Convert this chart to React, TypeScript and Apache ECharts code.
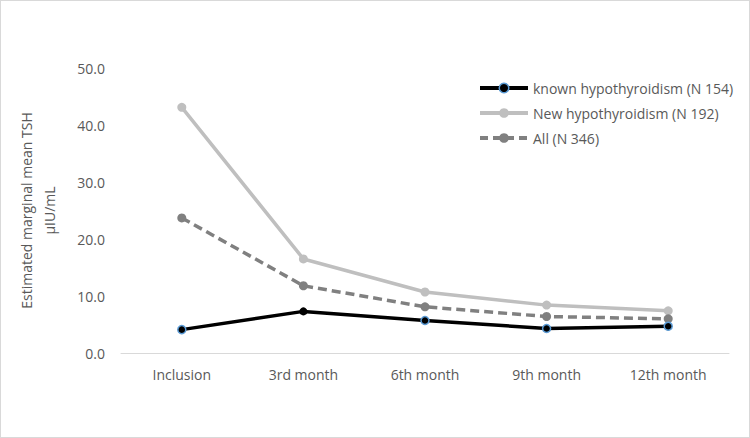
import React, { useEffect, useRef } from "react";
import * as echarts from "echarts";

const categories = ["Inclusion", "3rd month", "6th month", "9th month", "12th month"];
const knownValues = [4.1, 7.3, 5.7, 4.3, 4.7];
const newValues = [43.1, 16.5, 10.7, 8.4, 7.4];
const allValues = [23.7, 11.8, 8.1, 6.4, 6.0];
const seriesNames = ["known hypothyroidism (N 154)", "New hypothyroidism (N 192)", "All (N 346)"];
const yAxisTitle = "Estimated marginal mean TSH\nµIU/mL";

const FONT = "'Open Sans', sans-serif";
const TEXT = "#595959";

export default function App() {
  const ref = useRef<HTMLDivElement>(null);
  useEffect(() => {
    if (!ref.current) return;
    const chart = echarts.init(ref.current, undefined, { renderer: "svg" });
    const knownData = knownValues.map((v, i) => ({
      value: v,
      itemStyle: i === 1 ? { color: "#000", borderColor: "#000", borderWidth: 0 } : { color: "#000", borderColor: "#5b9bd5", borderWidth: 1.5 },
    }));
    chart.setOption({
      animation: false,
      backgroundColor: "#fff",
      textStyle: { fontFamily: FONT },
      grid: { left: 120, right: 20, top: 67, bottom: 84 },
      legend: {
        orient: "vertical",
        left: 472,
        top: 75,
        itemWidth: 48,
        itemHeight: 12,
        itemGap: 11,
        textStyle: { fontFamily: FONT, fontSize: 14, color: TEXT },
        data: [
          { name: seriesNames[0], itemStyle: { color: "#000", borderColor: "#5b9bd5", borderWidth: 1.5 }, lineStyle: { width: 4, color: "#000" } },
          { name: seriesNames[1], lineStyle: { width: 4, color: "#bfbfbf" } },
          { name: seriesNames[2], lineStyle: { width: 4, color: "#808080", type: [8, 5] } },
        ],
      },
      xAxis: {
        type: "category",
        data: categories,
        boundaryGap: true,
        axisLine: { lineStyle: { color: "#d9d9d9", width: 1 } },
        axisTick: { show: false },
        axisLabel: { fontFamily: FONT, fontSize: 14, color: TEXT, margin: 14 },
      },
      yAxis: {
        type: "value",
        min: 0,
        max: 50,
        interval: 10,
        axisLine: { show: false },
        axisTick: { show: false },
        splitLine: { show: false },
        axisLabel: {
          fontFamily: FONT,
          fontSize: 14,
          color: TEXT,
          margin: 16,
          formatter: (v: number) => v.toFixed(1),
        },
        name: yAxisTitle,
        nameLocation: "middle",
        nameRotate: 90,
        nameGap: 60,
        nameTextStyle: { fontFamily: FONT, fontSize: 14, color: TEXT, lineHeight: 23, align: "center" },
      },
      series: [
        {
          name: seriesNames[0],
          type: "line",
          data: knownData,
          symbol: "circle",
          symbolSize: 8,
          color: "#000",
          lineStyle: { color: "#000", width: 3.5 },
          z: 4,
        },
        {
          name: seriesNames[1],
          type: "line",
          data: newValues,
          symbol: "circle",
          symbolSize: 9,
          color: "#bfbfbf",
          itemStyle: { color: "#bfbfbf" },
          lineStyle: { color: "#bfbfbf", width: 3.5 },
          z: 2,
        },
        {
          name: seriesNames[2],
          type: "line",
          data: allValues,
          symbol: "circle",
          symbolSize: 9,
          color: "#808080",
          itemStyle: { color: "#808080" },
          lineStyle: { color: "#808080", width: 3.5, type: [9, 5] },
          z: 3,
        },
      ],
    });
    return () => chart.dispose();
  }, []);
  return (
    <div
      ref={ref}
      style={{
        position: "fixed",
        left: 0,
        top: 0,
        width: 750,
        height: 438,
        boxSizing: "border-box",
        border: "1px solid #d9d9d9",
        background: "#fff",
      }}
    />
  );
}
